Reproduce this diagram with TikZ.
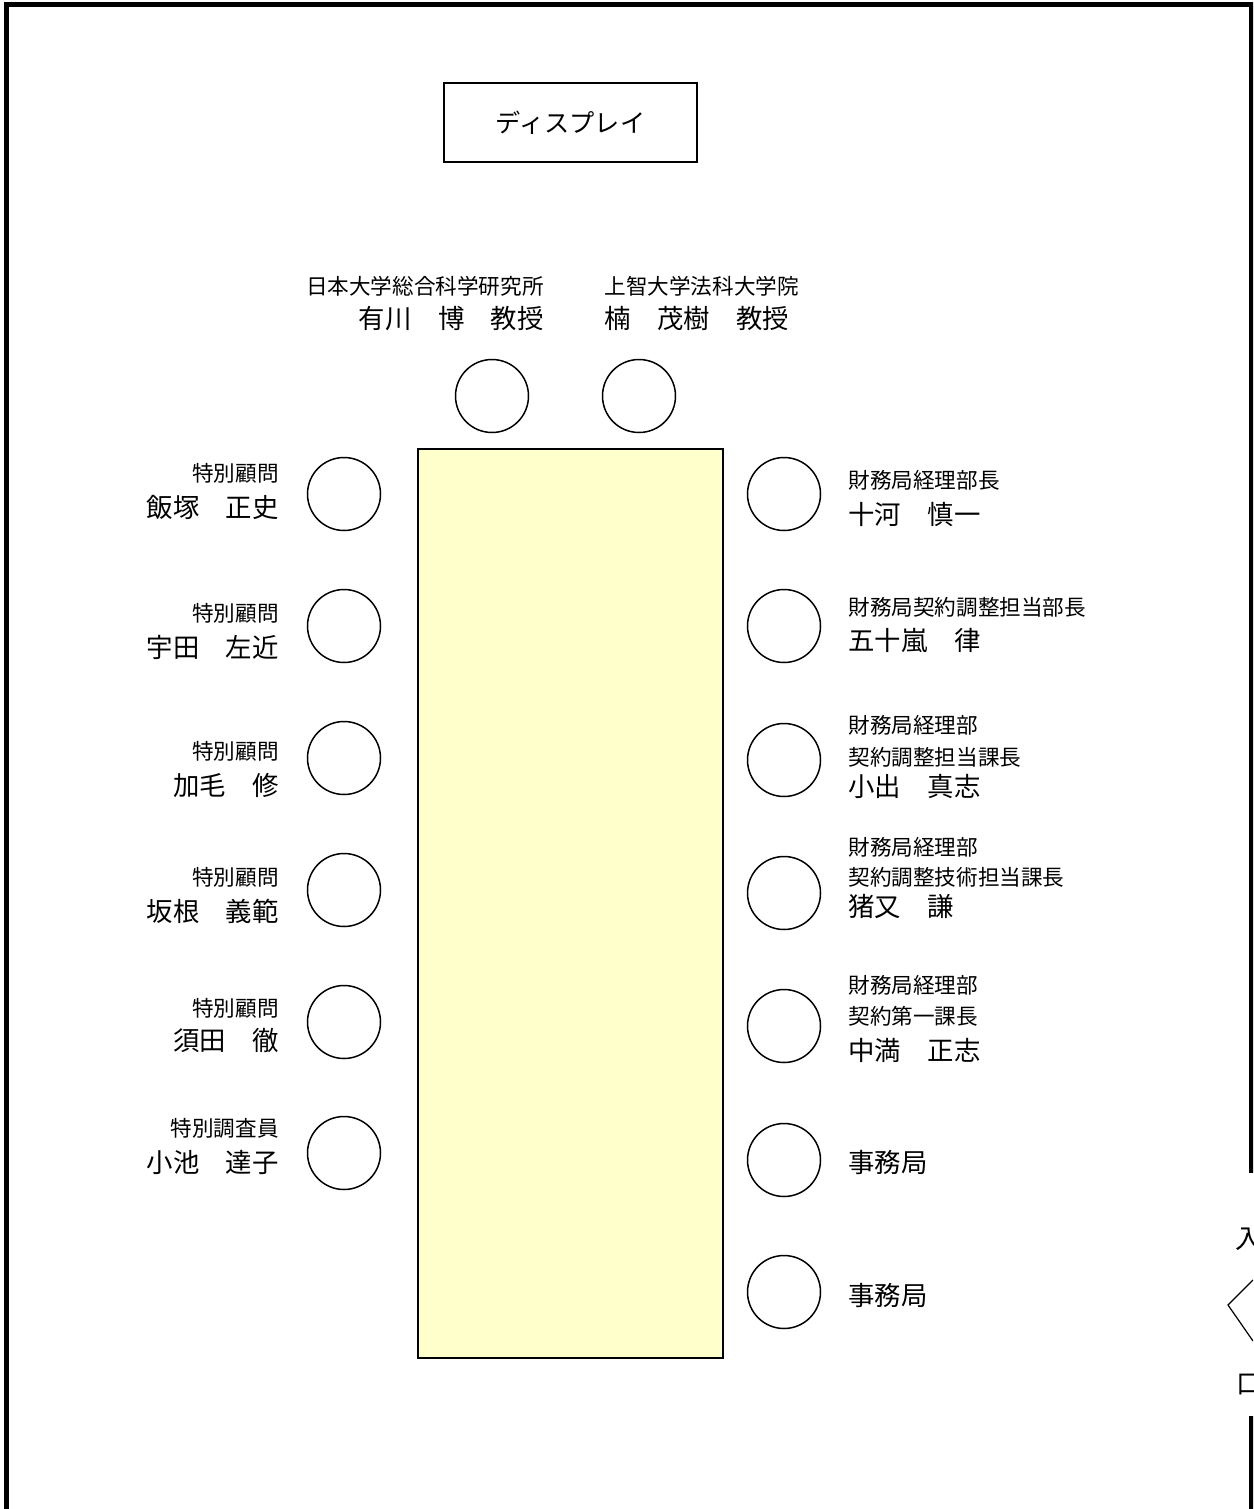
\documentclass[tikz,border=0pt]{standalone}
\usepackage{fontspec}
\setmainfont{Noto Sans CJK JP}
\definecolor{tableyellow}{HTML}{FFFFCC}
\begin{document}
\begin{tikzpicture}[x=0.5pt,y=-0.5pt,
  wall/.style={line width=2.5pt},
  seat/.style={circle, draw, line width=0.75pt, minimum size=36.5pt, inner sep=0pt},
  lblsmall/.style={inner sep=0pt, font=\fontsize{10.8pt}{13pt}\selectfont},
  lblbig/.style={inner sep=0pt, font=\fontsize{13.2pt}{15pt}\selectfont},
  lefttext/.style={anchor=east},
  righttext/.style={anchor=west}]
\useasboundingbox (0,0) rectangle (1253,1509);
\clip (0,0) rectangle (1253,1509);

% walls
\draw[wall] (6,1509) -- (6,4.3) -- (1251,4.3) -- (1251,1173);
\draw[wall] (1251,1416) -- (1251,1509);

% display
\node[draw, line width=0.75pt, minimum width=126.5pt, minimum height=39.5pt, inner sep=0pt,
      font=\fontsize{12.6pt}{15pt}\selectfont] (display) at (570.5,122.5) {ディスプレイ};

% table
\node[draw, fill=tableyellow, line width=0.6pt, minimum width=152.5pt, minimum height=454.5pt, inner sep=0pt] (table) at (570.5,903.5) {};

% top seats
\node[seat] (t1) at (492,396) {};
\node[seat] (t2) at (639,396) {};
\node[lblsmall, lefttext] (t1a) at (544,286) {日本大学総合科学研究所};
\node[lblbig, lefttext] (t1b) at (544,319) {有川　博　教授};
\node[lblsmall, righttext] (t2a) at (604,286) {上智大学法科大学院};
\node[lblbig, righttext] (t2b) at (604,319) {楠　茂樹　教授};

% left seats
\node[seat] (l1) at (344,494) {};
\node[seat] (l2) at (344,626) {};
\node[seat] (l3) at (344,758) {};
\node[seat] (l4) at (344,890) {};
\node[seat] (l5) at (344,1022) {};
\node[seat] (l6) at (344,1153) {};

\node[lblsmall, lefttext] (l1a) at (279,473) {特別顧問};
\node[lblbig, lefttext] (l1b) at (279,507) {飯塚　正史};
\node[lblsmall, lefttext] (l2a) at (279,613) {特別顧問};
\node[lblbig, lefttext] (l2b) at (279,647) {宇田　左近};
\node[lblsmall, lefttext] (l3a) at (279,751) {特別顧問};
\node[lblbig, lefttext] (l3b) at (279,785) {加毛　修};
\node[lblsmall, lefttext] (l4a) at (279,877) {特別顧問};
\node[lblbig, lefttext] (l4b) at (279,911) {坂根　義範};
\node[lblsmall, lefttext] (l5a) at (279,1008) {特別顧問};
\node[lblbig, lefttext] (l5b) at (279,1041) {須田　徹};
\node[lblsmall, lefttext] (l6a) at (279,1128) {特別調査員};
\node[lblbig, lefttext] (l6b) at (279,1162) {小池　達子};

% right seats
\node[seat] (r1) at (784,494) {};
\node[seat] (r2) at (784,626) {};
\node[seat] (r3) at (784,760) {};
\node[seat] (r4) at (784,893) {};
\node[seat] (r5) at (784,1026) {};
\node[seat] (r6) at (784,1160) {};
\node[seat] (r7) at (784,1292) {};

\node[lblsmall, righttext] (r1a) at (848,480) {財務局経理部長};
\node[lblbig, righttext] (r1b) at (848,514) {十河　慎一};
\node[lblsmall, righttext] (r2a) at (848,607) {財務局契約調整担当部長};
\node[lblbig, righttext] (r2b) at (848,641) {五十嵐　律};
\node[lblsmall, righttext] (r3a) at (848,725) {財務局経理部};
\node[lblsmall, righttext] (r3b) at (848,757) {契約調整担当課長};
\node[lblbig, righttext] (r3c) at (848,786) {小出　真志};
\node[lblsmall, righttext] (r4a) at (848,847) {財務局経理部};
\node[lblsmall, righttext] (r4b) at (848,877) {契約調整技術担当課長};
\node[lblbig, righttext] (r4c) at (848,906) {猪又　謙};
\node[lblsmall, righttext] (r5a) at (848,985) {財務局経理部};
\node[lblsmall, righttext] (r5b) at (848,1016) {契約第一課長};
\node[lblbig, righttext] (r5c) at (848,1050) {中満　正志};
\node[lblbig, righttext] (r6a) at (848,1162) {事務局};
\node[lblbig, righttext] (r7a) at (848,1295) {事務局};

% entrance (cut off by the page edge, as in the reference)
\node[lblbig, righttext] (ent1) at (1235,1239) {入};
\node[lblbig, righttext] (ent2) at (1236,1385) {口};
\coordinate (d1) at (1253,1280);
\coordinate (d2) at (1228,1305);
\coordinate (d3) at (1253,1341);
\draw[line width=0.6pt] (d1) -- (d2) -- (d3);
\end{tikzpicture}
\end{document}
